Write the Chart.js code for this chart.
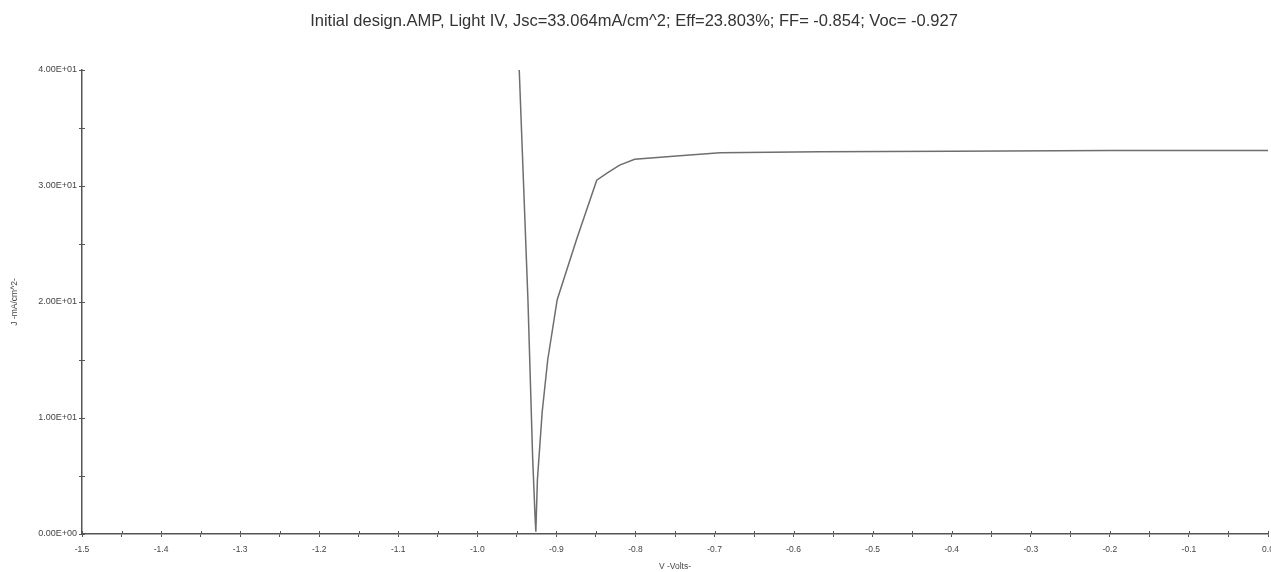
<!DOCTYPE html>
<html>
<head>
<meta charset="utf-8">
<script src="https://cdn.jsdelivr.net/npm/chart.js@4/dist/chart.umd.min.js"></script>
<style>
  html, body { margin: 0; padding: 0; background: #fff; }
  #wrap { width: 1271px; height: 572px; position: relative; }
</style>
</head>
<body>
<div id="wrap"><canvas id="ivChart"></canvas></div>
<script>
// Light IV curve
const voltage = [-0.947, -0.936, -0.930, -0.927, -0.926, -0.924, -0.918, -0.911, -0.899, -0.874, -0.849, -0.836, -0.820, -0.801, -0.744, -0.693, -0.567, -0.400, -0.200, 0.0];
const current = [40.0, 20.2, 6.5, 1.5, 0.2, 4.7, 10.5, 15.0, 20.2, 25.5, 30.5, 31.1, 31.8, 32.3, 32.6, 32.86, 32.95, 33.0, 33.05, 33.064];

const xTicks = [-1.5, -1.4, -1.3, -1.2, -1.1, -1.0, -0.9, -0.8, -0.7, -0.6, -0.5, -0.4, -0.3, -0.2, -0.1, 0.0];
const yTicks = [0, 10, 20, 30, 40];

const titleText = 'Initial design.AMP, Light IV, Jsc=33.064mA/cm^2; Eff=23.803%; FF= -0.854; Voc= -0.927';

const points = voltage.map((v, i) => ({ x: v, y: current[i] }));

// 4.00E+01 style labels
function sciLabel(v) {
    const parts = v.toExponential(2).split('e');
    let exp = parseInt(parts[1], 10);
    const sign = exp < 0 ? '-' : '+';
    exp = Math.abs(exp);
    return parts[0] + 'E' + sign + (exp < 10 ? '0' + exp : exp);
}

// ticks crossing the axes a little on the inside too
const innerTicks = {
    id: 'innerTicks',
    afterDraw(chart) {
        const ctx = chart.ctx;
        const xs = chart.scales.x, ys = chart.scales.y;
        ctx.save();
        ctx.strokeStyle = '#555';
        ctx.lineWidth = 1;
        xs.ticks.forEach(t => {
            const px = Math.round(xs.getPixelForValue(t.value)) + 0.5;
            ctx.beginPath();
            ctx.moveTo(px, ys.bottom);
            ctx.lineTo(px, ys.bottom - 3);
            ctx.stroke();
        });
        ys.ticks.forEach(t => {
            const py = Math.round(ys.getPixelForValue(t.value)) + 0.5;
            ctx.beginPath();
            ctx.moveTo(xs.left, py);
            ctx.lineTo(xs.left + 3, py);
            ctx.stroke();
        });
        ctx.restore();
    }
};

new Chart(document.getElementById('ivChart'), {
    type: 'scatter',
    data: {
        datasets: [{
            label: 'Light IV',
            data: points,
            showLine: true,
            borderColor: '#6e6e6e',
            borderWidth: 1.5,
            pointRadius: 0,
            tension: 0,
            fill: false
        }]
    },
    options: {
        responsive: true,
        maintainAspectRatio: false,
        animation: false,
        layout: { padding: { left: 0, right: 3, top: 0, bottom: 0 } },
        scales: {
            x: {
                type: 'linear',
                min: -1.5,
                max: 0,
                afterBuildTicks: axis => {
                    const t = [];
                    for (let i = 0; i <= 30; i++) t.push({ value: -1.5 + i * 0.05 });
                    axis.ticks = t;
                },
                afterFit: axis => {
                    axis.height = 38;
                    axis.paddingLeft = 0;
                    axis.paddingRight = 0;
                },
                ticks: {
                    autoSkip: false,
                    maxRotation: 0,
                    color: '#444',
                    font: { family: 'Liberation Sans', size: 8.5 },
                    padding: 8,
                    callback: v => {
                        const r = Math.round(v * 100);
                        if (r % 10 !== 0) return '';
                        const lab = xTicks.find(x => Math.round(x * 100) === r);
                        return lab === undefined ? '' : lab.toFixed(1);
                    }
                },
                grid: { display: true, drawOnChartArea: false, drawTicks: true, tickLength: 3, color: '#555' },
                border: { display: true, color: '#555', width: 1.5 },
                title: { display: true, text: 'V -Volts-', color: '#444', font: { family: 'Liberation Sans', size: 8.5 }, padding: { top: 0, bottom: 0 } }
            },
            y: {
                type: 'linear',
                min: 0,
                max: 40,
                afterBuildTicks: axis => {
                    const t = [];
                    for (let i = 0; i <= 8; i++) t.push({ value: i * 5 });
                    axis.ticks = t;
                },
                afterFit: axis => {
                    axis.width = 82;
                    axis.paddingTop = 0;
                    axis.paddingBottom = 0;
                },
                ticks: {
                    autoSkip: false,
                    color: '#444',
                    font: { family: 'Liberation Sans', size: 9 },
                    padding: 2,
                    callback: v => yTicks.includes(v) ? sciLabel(v) : ''
                },
                grid: { display: true, drawOnChartArea: false, drawTicks: true, tickLength: 3, color: '#555' },
                border: { display: true, color: '#555', width: 1.5 },
                title: { display: true, text: 'J -mA/cm^2-', color: '#444', font: { family: 'Liberation Sans', size: 8.5 }, padding: { top: 10, bottom: 0 } }
            }
        },
        plugins: {
            legend: { display: false },
            tooltip: { enabled: false },
            title: {
                display: true,
                text: titleText,
                color: '#333',
                font: { family: 'Liberation Sans', size: 16.5, weight: 'normal' },
                padding: { top: 12, bottom: 38.2 }
            }
        }
    },
    plugins: [innerTicks]
});
</script>
</body>
</html>
